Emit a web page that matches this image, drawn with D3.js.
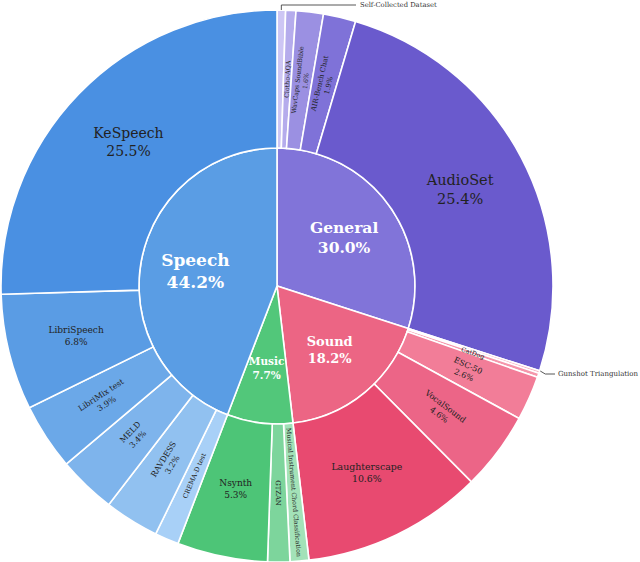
<!DOCTYPE html>
<html><head><meta charset="utf-8">
<script src="https://cdn.jsdelivr.net/npm/d3@7"></script>
<style>body{margin:0;background:#fff}svg{display:block}</style>
</head><body><svg id="c" width="640" height="562"></svg>
<script>
// ---- data (percent of total) ----
const categories = ["General", "Sound", "Music", "Speech"];
const generalNames = ["Self-Collected Dataset", "Clotho-AQA", "WavCaps SoundBible", "AIR-Bench Chat", "AudioSet"];
const generalValues = [0.5, 0.6, 1.6, 1.9, 25.4];
const soundNames = ["Gunshot Triangulation", "CatDog", "ESC-50", "VocalSound", "Laughterscape"];
const soundValues = [0.15, 0.25, 2.6, 4.6, 10.6];
const musicNames = ["Musical Instrument Chord Classification", "GTZAN", "Nsynth"];
const musicValues = [1.1, 1.3, 5.3];
const speechNames = ["CREMA-D test", "RAVDESS", "MELD", "LibriMix test", "LibriSpeech", "KeSpeech"];
const speechValues = [1.4, 3.2, 3.4, 3.9, 6.8, 25.5];

const childNames = [generalNames, soundNames, musicNames, speechNames];
const childValues = [generalValues, soundValues, musicValues, speechValues];

// ---- styles ----
const colors = {
  "General": "#8174d9", "Sound": "#ec6584", "Music": "#52c77a", "Speech": "#5a9de4",
  "Self-Collected Dataset": "#cdc6f4", "Clotho-AQA": "#b5acec", "WavCaps SoundBible": "#9b90e2",
  "AIR-Bench Chat": "#7f72d8", "AudioSet": "#6a5acd",
  "Gunshot Triangulation": "#f8b0c0", "CatDog": "#f596ab", "ESC-50": "#f27d98",
  "VocalSound": "#ec6587", "Laughterscape": "#e84a70",
  "Musical Instrument Chord Classification": "#a3e2b8", "GTZAN": "#7dd59c", "Nsynth": "#4dc577",
  "CREMA-D test": "#a8d0f7", "RAVDESS": "#91c1f0", "MELD": "#7eb4ec",
  "LibriMix test": "#6ba8e8", "LibriSpeech": "#5a9ce4", "KeSpeech": "#4a90e2"
};
// label mode: h = horizontal, r = radial, lead = leader line, none
const labelStyle = {
  "General": {mode: "h", size: 15.5, pct: true, inner: true},
  "Sound": {mode: "h", size: 13, pct: true, inner: true},
  "Music": {mode: "h", size: 10.5, pct: true, inner: true},
  "Speech": {mode: "h", size: 17, pct: true, inner: true},
  "Self-Collected Dataset": {mode: "lead", size: 6.8},
  "Clotho-AQA": {mode: "r", size: 6.3, pct: false},
  "WavCaps SoundBible": {mode: "r", size: 6.3, pct: true},
  "AIR-Bench Chat": {mode: "r", size: 7, pct: true},
  "AudioSet": {mode: "h", size: 14.5, pct: true},
  "Gunshot Triangulation": {mode: "lead", size: 7},
  "CatDog": {mode: "r", size: 6.3, pct: false},
  "ESC-50": {mode: "r", size: 8, pct: true},
  "VocalSound": {mode: "r", size: 8.2, pct: true},
  "Laughterscape": {mode: "h", size: 9.4, pct: true},
  "Musical Instrument Chord Classification": {mode: "r", size: 6.3, pct: false},
  "GTZAN": {mode: "r", size: 6.8, pct: false},
  "Nsynth": {mode: "h", size: 9, pct: true},
  "CREMA-D test": {mode: "r", size: 6.6, pct: false},
  "RAVDESS": {mode: "r", size: 8, pct: true},
  "MELD": {mode: "r", size: 8, pct: true},
  "LibriMix test": {mode: "r", size: 8, pct: true},
  "LibriSpeech": {mode: "h", size: 9, pct: true},
  "KeSpeech": {mode: "h", size: 14, pct: true}
};

const svg = d3.select("#c");
const cx = 277, cy = 286, R1 = 138, R2 = 276;
const g = svg.append("g").attr("transform", `translate(${cx},${cy})`);

const rootData = {name: "root", children: categories.map((c, i) => ({
  name: c, children: childNames[i].map((n, j) => ({name: n, value: childValues[i][j]}))
}))};
const root = d3.hierarchy(rootData).sum(d => d.value || 0);
d3.partition().size([2 * Math.PI, 1])(root);
const nodes = root.descendants().filter(d => d.depth > 0);

const arc = d3.arc()
  .startAngle(d => d.x0).endAngle(d => d.x1)
  .innerRadius(d => d.depth === 1 ? 0 : R1)
  .outerRadius(d => d.depth === 1 ? R1 : R2);

g.selectAll("path.slice").data(nodes).join("path")
  .attr("class", "slice")
  .attr("d", arc)
  .attr("fill", d => colors[d.data.name])
  .attr("stroke", "#fff")
  .attr("stroke-width", 1.6);

const FONT = "'DejaVu Serif', Georgia, serif";
const fmt = v => v.toFixed(1) + "%";

nodes.forEach(d => {
  const st = labelStyle[d.data.name];
  if (!st) return;
  const a = (d.x0 + d.x1) / 2;
  const adeg = a * 180 / Math.PI;
  if (st.mode === "lead") {
    const px = R2 * Math.sin(a), py = -R2 * Math.cos(a);
    let pts, tx, ty;
    if (py < -200) { // top
      ty = 5 - cy;
      pts = [[px, py], [px, ty], [356 - cx, ty]];
      tx = 360 - cx;
    } else {
      ty = 374 - cy;
      pts = [[px + 1, py - 1], [px + 6, ty], [555 - cx, ty]];
      tx = 558 - cx;
    }
    g.append("path").attr("d", d3.line()(pts)).attr("fill", "none")
      .attr("stroke", "#444").attr("stroke-width", 0.9);
    g.append("text").attr("x", tx).attr("y", ty).attr("dy", "0.35em")
      .attr("font-family", FONT).attr("font-size", st.size).attr("fill", "#333")
      .text(d.data.name);
    return;
  }
  const r = d.depth === 1 ? 83 : 207;
  const x = r * Math.sin(a), y = -r * Math.cos(a);
  let rot = 0;
  if (st.mode === "r") rot = adeg < 180 ? adeg - 90 : adeg - 270;
  const lines = st.pct ? [d.data.name, fmt(d.value)] : [d.data.name];
  const lh = st.size * 1.3;
  const t = g.append("text")
    .attr("transform", `translate(${x},${y}) rotate(${rot})`)
    .attr("text-anchor", "middle")
    .attr("font-family", FONT)
    .attr("font-size", st.size)
    .attr("font-weight", st.inner ? "bold" : "normal")
    .attr("fill", st.inner ? "#fff" : "#222");
  lines.forEach((ln, i) => {
    t.append("tspan").attr("x", 0)
      .attr("y", (i - (lines.length - 1) / 2) * lh)
      .attr("dy", "0.35em").text(ln);
  });
});
</script></body></html>
